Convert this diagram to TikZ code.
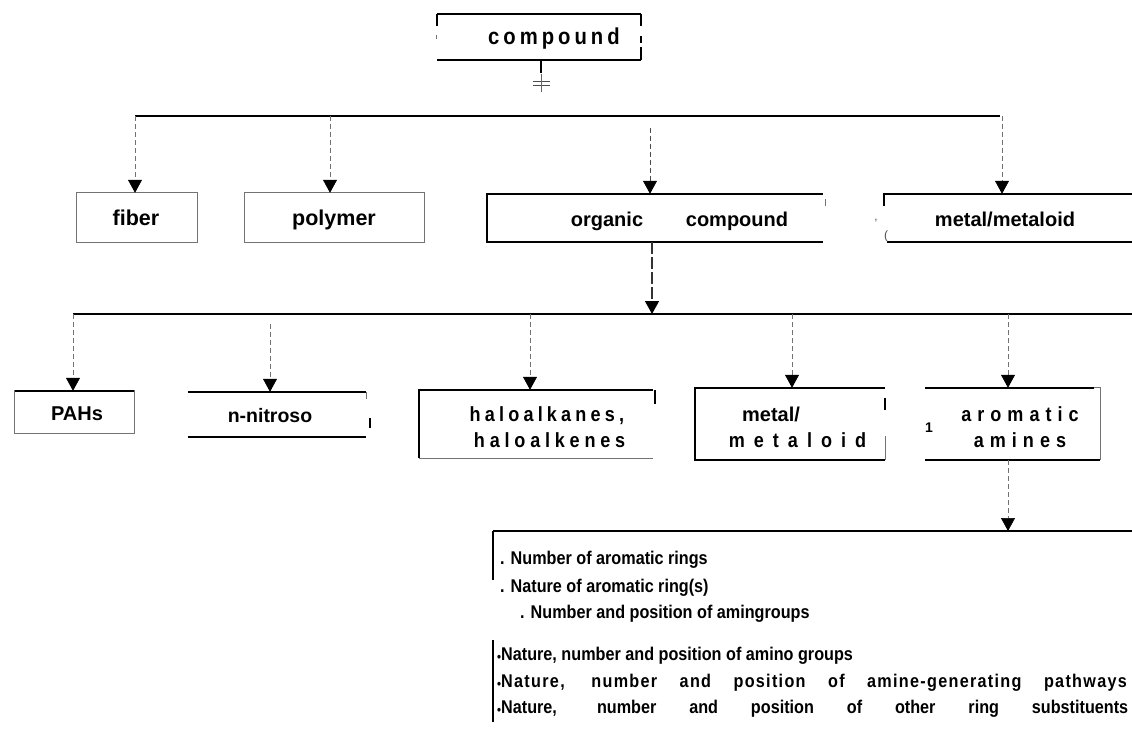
\documentclass[tikz,border=0pt]{standalone}
\usepackage{fontspec}
\setmainfont{Liberation Sans}
\newfontfamily\narrowsf{Liberation Sans}[FakeStretch=0.88]
\usetikzlibrary{arrows.meta}

% letter-spaced words: a kern after every character
\newlength\lspkern
\def\lspaced#1{\lspacedaux#1\relax}
\def\lspacedaux#1{\ifx\relax#1\else#1\kern\lspkern\expandafter\lspacedaux\fi}
\newcommand\lsp[2]{{\setlength\lspkern{#1}\lspaced{#2}}}
\newcommand\wl[1]{\lsp{1.3pt}{#1}}
\newcommand\dotb{{\fontsize{13}{13}\selectfont\raisebox{-1pt}{•}}}

\begin{document}
\begin{tikzpicture}[x=1pt,y=-1pt,
  box/.style={draw=none, inner sep=0pt},
  edge/.style={line width=1.6pt, black},
  thin edge/.style={line width=0.9pt, black!55},
  bus/.style={line width=1.8pt, black},
  branch/.style={line width=0.7pt, black!55, dash pattern=on 5pt off 3pt,
    -{Triangle[width=14pt,length=13pt,color=black]}},
  trunk/.style={line width=1.4pt, black!80, dash pattern=on 12pt off 3pt,
    -{Triangle[width=14pt,length=13pt,color=black]}},
  lbl/.style={font=\fontsize{20}{24}\selectfont\bfseries, inner sep=0pt, anchor=base},
  slbl/.style={font=\narrowsf\fontsize{20.5}{24}\selectfont\bfseries, inner sep=0pt, anchor=base},
  listtxt/.style={font=\narrowsf\fontsize{18.4}{22}\selectfont\bfseries, anchor=base west, inner sep=0pt},
  scrap/.style={font=\fontsize{12}{12}\selectfont, inner sep=0pt, text=black!70}]

\useasboundingbox[fill=white] (0,0) rectangle (1132,733);

% ---------- top node ----------
\node[box, minimum width=204pt, minimum height=46pt] (comp) at (539,37) {};
\node[lbl, anchor=base west, font=\narrowsf\fontsize{23}{26}\selectfont\bfseries] (compt) at (488,45) {\lsp{4pt}{compound}};
\draw[edge] (comp.north west) -- (comp.north east);
\draw[edge] (comp.north west) -- ++(0,12);
\draw[edge] (comp.north east) -- ++(0,12);
\draw[edge] (comp.east) ++(0,-1) -- ++(0,7);
\draw[edge] (comp.south east) -- ++(0,-13);
\draw[thin edge] (comp.west) ++(0,-2) -- ++(0,4);
\draw[edge] (comp.south west) -- (comp.south east);

\coordinate (stemend) at (541,73);
\draw[edge] (comp.south -| stemend) -- (stemend);
\coordinate (neq) at (541,83);
\draw[line width=0.8pt, black!70] (neq) ++(-8,-2) -- ++(17,0) (neq) ++(-8,2) -- ++(17,0);
\draw[line width=0.6pt, black!60] (neq) ++(0,-9) -- ++(0,18);

% ---------- first level ----------
\coordinate (busAL) at (135,116);
\coordinate (busAR) at (1000,116);
\draw[bus] (busAL) -- (busAR);

\node[box, minimum width=120pt, minimum height=49pt] (fiber) at (137,217.5) {};
\node[lbl, font=\fontsize{21.5}{24}\selectfont\bfseries] (fibert) at (136,225) {fiber};
\draw[thin edge] (fiber.north west) rectangle (fiber.south east);

\node[box, minimum width=179pt, minimum height=49pt] (poly) at (334.5,217.5) {};
\node[lbl, font=\fontsize{21.5}{24}\selectfont\bfseries] (polyt) at (334,225) {polymer};
\draw[thin edge] (poly.north west) rectangle (poly.south east);

\node[box, minimum width=336pt, minimum height=48pt] (org) at (655,218) {};
\node[lbl] (orgt1) at (607,226) {organic};
\node[lbl] (orgt2) at (737,226) {compound};
\draw[edge] (org.north east) -- (org.north west) -- (org.south west) -- (org.south east);
\draw[thin edge] (org.north east) ++(2,5) -- ++(0,7);

\node[box, minimum width=248pt, minimum height=48pt] (met1) at (1008,218) {};
\node[lbl] (met1t) at (1005,226) {metal/metaloid};
\draw[edge] (met1.north east) -- (met1.north west) -- ++(0,12);
\draw[edge] (met1.south west) ++(3,0) -- (met1.south east);
\node[scrap] (met1a) at (876,223) {'};
\node[scrap] (met1b) at (886,236) {(};

\coordinate (brF) at (135,116);
\coordinate (brP) at (330,116);
\coordinate (brO) at (650,116);
\coordinate (brM) at (1002,116);
\draw[branch] (brF) -- (brF |- fiber.north);
\draw[branch] (brP) -- (brP |- poly.north);
\draw[branch, line width=0.8pt, black!70] (brO) ++(0,12) -- (brO |- org.north);
\draw[branch] (brM) -- (brM |- met1.north);

% ---------- second level ----------
\coordinate (busBL) at (73,314);
\coordinate (busBR) at (1132,314);
\draw[bus] (busBL) -- (busBR);

\coordinate (trunkB) at (652,314);
\draw[trunk] (org.south -| trunkB) -- (trunkB);

\node[box, minimum width=119pt, minimum height=42pt] (pahs) at (74.5,412) {};
\node[lbl] (pahst) at (77,420) {PAHs};
\draw[thin edge] (pahs.north west) rectangle (pahs.south east);
\draw[edge] (pahs.north west) -- (pahs.north east);

\node[box, minimum width=178pt, minimum height=45pt] (nitro) at (277,414.5) {};
\node[lbl, font=\fontsize{19.5}{24}\selectfont\bfseries] (nitrot) at (270,422) {n-nitroso};
\draw[edge] (nitro.north west) -- (nitro.north east);
\draw[thin edge] (nitro.north east) -- ++(0,7);
\draw[edge] (nitro.east) ++(4,3.5) -- ++(0,10);
\draw[edge] (nitro.south west) -- (nitro.south east);

\node[box, minimum width=234pt, minimum height=68pt] (halo) at (536,424) {};
\node[slbl] (halot1) at (549,421) {\lsp{4.2pt}{haloalkanes,}};
\node[slbl] (halot2) at (552,447) {\lsp{4.8pt}{haloalkenes}};
\draw[edge] (halo.north east) -- (halo.north west) -- (halo.south west);
\draw[thin edge] (halo.south west) -- (halo.south east);
\draw[edge] (halo.north east) ++(2,0) -- ++(0,14);

\node[box, minimum width=190pt, minimum height=72pt] (met2) at (790,424) {};
\node[lbl] (met2t1) at (771,421) {metal/};
\node[slbl] (met2t2) at (802,447) {\lsp{9pt}{metaloid}};
\draw[edge] (met2.north east) -- (met2.north west) -- (met2.south west) -- (met2.south east);
\draw[edge] (met2.north east) ++(0,10) -- ++(0,12);
\draw[thin edge] (met2.south east) -- ++(0,-24);

\node[box, minimum width=175pt, minimum height=72pt] (arom) at (1012.5,424) {};
\node[slbl] (aromt1) at (1023,421) {\lsp{6pt}{aromatic}};
\node[slbl] (aromt2) at (1023,447) {\lsp{6pt}{amines}};
\node[scrap, font=\fontsize{14}{14}\selectfont\bfseries, text=black] (aromone) at (929,428) {1};
\draw[edge] (arom.north west) -- ([xshift=-6pt]arom.north east);
\draw[thin edge] ([xshift=-6pt]arom.north east) -- (arom.north east) -- (arom.south east);
\draw[edge] (arom.south west) -- (arom.south east);

\coordinate (brPA) at (73,314);
\coordinate (brNI) at (270,314);
\coordinate (brHA) at (530,314);
\coordinate (brME) at (792,314);
\coordinate (brAR) at (1008,314);
\draw[branch] (brPA) -- (brPA |- pahs.north);
\draw[branch] (brNI) ++(0,10) -- (brNI |- nitro.north);
\draw[branch] (brHA) -- (brHA |- halo.north);
\draw[branch] (brME) -- (brME |- met2.north);
\draw[branch] (brAR) -- (brAR |- arom.north);

% ---------- third level: structural features ----------
\coordinate (busCL) at (493,531);
\coordinate (busCR) at (1132,531);
\draw[bus] (busCL) -- (busCR);
\coordinate (trunkC) at (1008,531);
\draw[branch] (arom.south -| trunkC) -- (trunkC);

\draw[edge] (busCL) -- ++(0,49);
\coordinate (barC) at (493,640);
\draw[edge] (barC) -- ++(0,82);

\node[listtxt] (f1) at (500,564) {. Number of aromatic rings};
\node[listtxt] (f2) at (500,592) {. Nature of aromatic ring(s)};
\node[listtxt] (f3) at (520,618) {. Number and position of amingroups};
\node[listtxt] (f4) at (497,660) {\dotb Nature, number and position of amino groups};
\node[listtxt] (f5) at (497,687) {\makebox[631pt][s]{\dotb\wl{Nature,} \wl{number} \wl{and} \wl{position} \wl{of} \wl{amine-generating} \wl{pathways}}};
\node[listtxt] (f6) at (497,713) {\makebox[631pt][s]{\dotb Nature, number and position of other ring substituents}};

\end{tikzpicture}
\end{document}
